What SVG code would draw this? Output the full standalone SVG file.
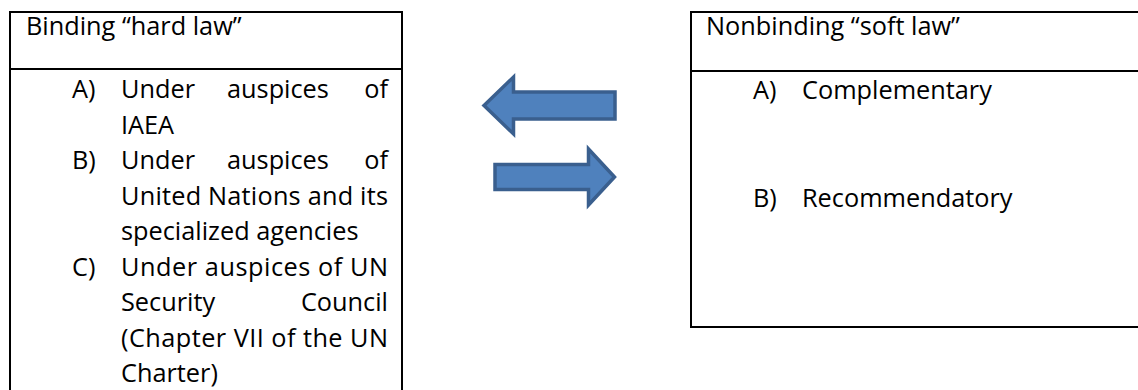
<svg xmlns="http://www.w3.org/2000/svg" width="1138" height="390" viewBox="0 0 1138 390">
  <style>
    .box { fill: #ffffff; stroke: #000000; stroke-width: 2; }
    .sep { stroke: #000000; stroke-width: 2; }
    .t { font-family: "Open Sans", "Liberation Sans", Arial, sans-serif; font-size: 25.3px; fill: #000000; }
    .end { text-anchor: end; }
    .arrow { fill: #4F81BD; stroke: #3A5F8E; stroke-width: 3.5; stroke-linejoin: miter; }
  </style>
  <rect width="1138" height="390" fill="#ffffff"/>

  <g id="hard-law">
    <path class="box" d="M10,400 L10,12 L402,12 L402,400"/>
    <line class="sep" x1="10" y1="69" x2="402" y2="69"/>
    <text class="t" x="26" y="35">Binding “hard law”</text>
    <text class="t" x="72" y="98">A)</text>
    <text class="t" x="121" y="98">Under</text>
    <text class="t" x="227" y="98">auspices</text>
    <text class="t end" x="388" y="98">of</text>
    <text class="t" x="121" y="133.5">IAEA</text>
    <text class="t" x="72" y="169">B)</text>
    <text class="t" x="121" y="169">Under</text>
    <text class="t" x="227" y="169">auspices</text>
    <text class="t end" x="388" y="169">of</text>
    <text class="t" x="121" y="204.5" textLength="267" lengthAdjust="spacing">United Nations and its</text>
    <text class="t" x="121" y="240">specialized agencies</text>
    <text class="t" x="72" y="275.5">C)</text>
    <text class="t" x="121" y="275.5" textLength="267" lengthAdjust="spacing">Under auspices of UN</text>
    <text class="t" x="121" y="311">Security</text>
    <text class="t end" x="388" y="311">Council</text>
    <text class="t" x="121" y="346.5" textLength="267" lengthAdjust="spacing">(Chapter VII of the UN</text>
    <text class="t" x="121" y="382">Charter)</text>
  </g>

  <g id="soft-law">
    <rect class="box" x="691" y="12" width="460" height="315"/>
    <line class="sep" x1="691" y1="71" x2="1140" y2="71"/>
    <text class="t" x="706" y="35">Nonbinding “soft law”</text>
    <text class="t" x="753" y="99">A)</text>
    <text class="t" x="802" y="99">Complementary</text>
    <text class="t" x="753" y="207">B)</text>
    <text class="t" x="802" y="207">Recommendatory</text>
  </g>

  <g id="connectors">
    <path id="arrow-left" class="arrow" d="M484,105.5 L513.5,77 L513.5,92 L615,92 L615,119 L513.5,119 L513.5,134 Z"/>
    <path id="arrow-right" class="arrow" d="M495,164.5 L588.5,164.5 L588.5,149 L614.5,177 L588.5,205 L588.5,189.5 L495,189.5 Z"/>
  </g>
</svg>
